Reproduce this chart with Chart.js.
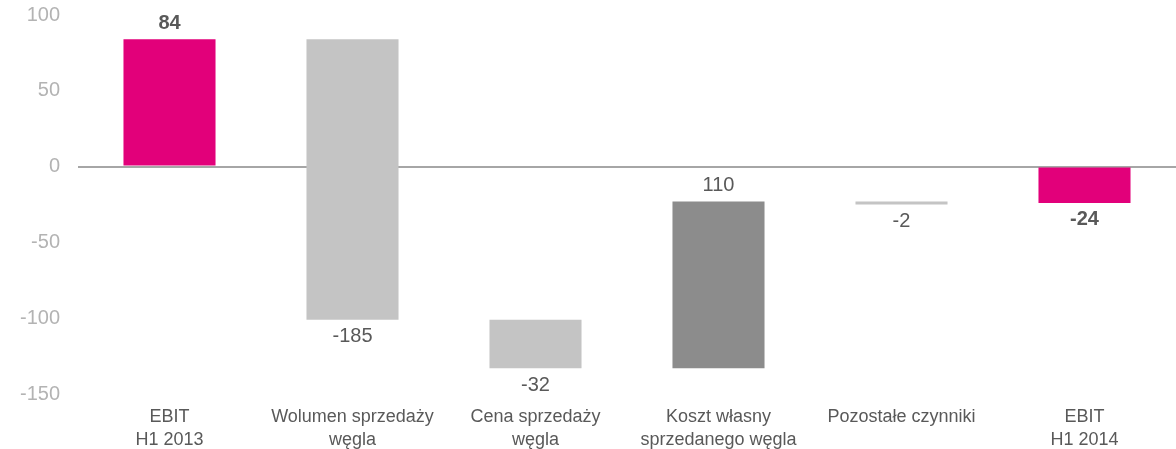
<!DOCTYPE html>
<html lang="pl">
  <head>
    <meta charset="UTF-8" />
    <title>EBIT H1 2013 - H1 2014</title>
    <script src="https://cdn.jsdelivr.net/npm/chart.js"></script>
    <style>
      html,
      body {
        margin: 0;
        background: #fff;
        font-family: "Liberation Sans", Arial, sans-serif;
      }
      #wrap {
        width: 1176px;
        height: 449px;
      }
    </style>
  </head>
  <body>
    <div id="wrap"><canvas id="chart"></canvas></div>
    <script>
      const categories = [
        ["EBIT", "H1 2013"],
        ["Wolumen sprzedaży", "węgla"],
        ["Cena sprzedaży", "węgla"],
        ["Koszt własny", "sprzedanego węgla"],
        "Pozostałe czynniki",
        ["EBIT", "H1 2014"],
      ];
      // first and last are totals, the rest are changes
      const values = [84, -185, -32, 110, -2, -24];
      const isTotal = [true, false, false, false, false, true];
      const barColors = ["#e2007a", "#c4c4c4", "#c4c4c4", "#8c8c8c", "#c4c4c4", "#e2007a"];
      const yTicks = { min: -150, max: 100, step: 50 };

      // build floating bars [start, end] from the values
      let running = 0;
      const ranges = values.map((v, i) => {
        if (isTotal[i]) {
          running = v;
          return [0, v];
        }
        const start = running;
        running += v;
        return [start, running];
      });

      const valueLabels = {
        id: "valueLabels",
        afterDatasetsDraw(chart) {
          const ctx = chart.ctx;
          const meta = chart.getDatasetMeta(0);
          const y = chart.scales.y;
          ctx.save();
          ctx.fillStyle = "#595959";
          ctx.textAlign = "center";
          ctx.textBaseline = "middle";
          meta.data.forEach((bar, i) => {
            const [a, b] = ranges[i];
            const up = values[i] > 0;
            const edge = up ? y.getPixelForValue(Math.max(a, b)) : y.getPixelForValue(Math.min(a, b));
            ctx.font = (isTotal[i] ? "bold " : "") + '20px "Liberation Sans", Arial, sans-serif';
            ctx.fillText(String(values[i]), bar.x, up ? edge - 16 : edge + 17);
          });
          ctx.restore();
        },
      };

      new Chart(document.getElementById("chart"), {
        type: "bar",
        data: {
          labels: categories,
          datasets: [
            {
              data: ranges,
              backgroundColor: barColors,
              borderSkipped: false,
              categoryPercentage: 1,
              barPercentage: 0.503,
            },
          ],
        },
        options: {
          responsive: true,
          maintainAspectRatio: false,
          animation: false,
          layout: { padding: { top: 15, left: 0, right: 0, bottom: 0 } },
          plugins: {
            legend: { display: false },
            tooltip: { enabled: false },
          },
          scales: {
            x: {
              grid: { display: false },
              border: { display: false },
              ticks: {
                color: "#595959",
                padding: 3,
                maxRotation: 0,
                autoSkip: false,
                font: { family: '"Liberation Sans", Arial, sans-serif', size: 18, lineHeight: 1.3 },
              },
              afterFit(scale) {
                scale.height = 55;
                scale.paddingLeft = 0;
                scale.paddingRight = 0;
              },
            },
            y: {
              min: yTicks.min,
              max: yTicks.max,
              border: { display: false },
              grid: {
                drawTicks: false,
                color: (c) => (c.tick && c.tick.value === 0 ? "#a6a6a6" : "rgba(0,0,0,0)"),
                lineWidth: (c) => (c.tick && c.tick.value === 0 ? 2 : 0),
              },
              ticks: {
                stepSize: yTicks.step,
                padding: 18,
                color: "#b3b3b3",
                font: { family: '"Liberation Sans", Arial, sans-serif', size: 20 },
              },
              afterFit(scale) {
                scale.width = 78;
                scale.paddingTop = 0;
                scale.paddingBottom = 0;
              },
            },
          },
        },
        plugins: [valueLabels],
      });
    </script>
  </body>
</html>
